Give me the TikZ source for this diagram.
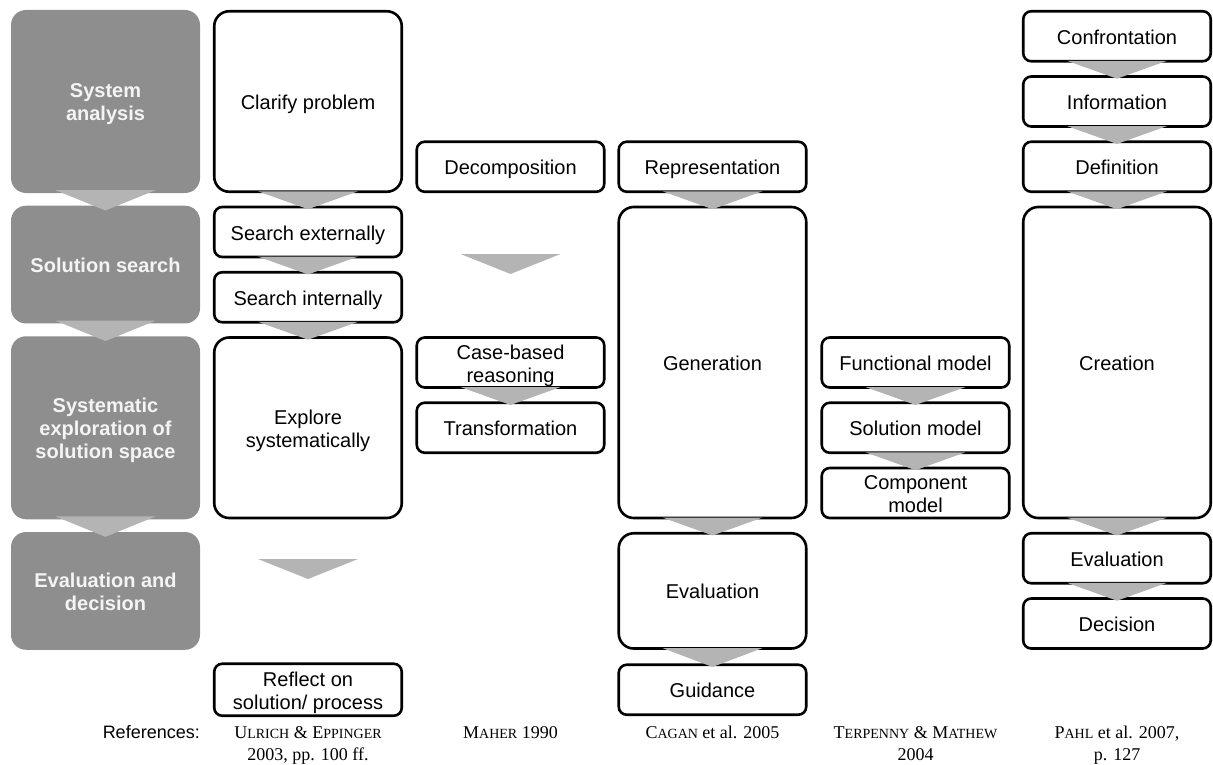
\documentclass[tikz,border=0pt]{standalone}
\usepackage{fontspec}
\setmainfont{Liberation Sans}
\newfontfamily\refserif{Liberation Serif}
\usetikzlibrary{calc}

\definecolor{phasegray}{HTML}{8E8E8E}
\definecolor{chevrongray}{HTML}{B4B4B4}
\definecolor{phasetext}{HTML}{F4F4F4}

% fake small capitals for author names
\newcommand\smc[1]{{\fontsize{14}{22}\selectfont #1}}
% downward chevron between two stacked boxes
\newcommand\stepchevron[2]{%
  \fill[chevrongray] ($(#1.south)+(-50,-1.75)$) -- ($(#1.south)+(50,-1.75)$)
    -- ($(#2.north)+(0,3.5)$) -- cycle;}
\newcommand\phasechevron[2]{%
  \fill[chevrongray] ($(#1.south)+(-50,-3)$) -- ($(#1.south)+(50,-3)$)
    -- ($(#2.north)+(0,5)$) -- cycle;}
\newcommand\freechevron[1]{%
  \fill[chevrongray] ($(#1)+(-50,0)$) -- ($(#1)+(50,0)$) -- ($(#1)+(0,20)$) -- cycle;}

\tikzset{
  oneline/.style={text height=20pt, text depth=4pt},
  twolines/.style={text height=43pt, text depth=4pt},
  threelines/.style={text height=66pt, text depth=4pt},
  stepbox/.style={draw=black, line width=2.6pt, fill=white, rounded corners=8pt,
    minimum width=187.5pt, inner sep=0pt, align=center, oneline,
    font=\fontsize{20}{23}\selectfont},
  bigbox/.style={stepbox, rounded corners=15pt},
  phase/.style={fill=phasegray, rounded corners=15pt, minimum width=189pt,
    inner sep=0pt, align=center, text=phasetext, oneline,
    font=\bfseries\fontsize{20}{23}\selectfont},
  reftext/.style={align=center, font=\refserif\fontsize{18}{22}\selectfont,
    anchor=base, inner sep=0pt},
}

\begin{document}
\begin{tikzpicture}[x=1pt, y=-1pt]
\useasboundingbox (0,0) rectangle (1213,765);

% phases
\node[phase, twolines, minimum height=183pt]   (sa) at (105.5,101.5) {System\\analysis};
\node[phase, minimum height=117.75pt]          (ss) at (105.5,264.6) {Solution search};
\node[phase, threelines, minimum height=183pt] (se) at (105.5,427.75) {Systematic\\exploration of\\solution space};
\node[phase, twolines, minimum height=117.75pt] (ed) at (105.5,590.9) {Evaluation and\\decision};

% Ulrich & Eppinger
\node[bigbox,  minimum height=180.5pt] (u1) at (308,101.5) {Clarify problem};
\node[stepbox, minimum height=50pt]    (u2) at (308,232) {Search externally};
\node[stepbox, minimum height=50pt]    (u3) at (308,297.25) {Search internally};
\node[bigbox, twolines, minimum height=180.5pt] (u4) at (308,427.75) {Explore\\systematically};
\node[stepbox, twolines, minimum height=52pt]   (u5) at (308,689.75) {Reflect on\\solution/ process};
\coordinate (uf) at (308,559);

% Maher
\node[stepbox, minimum height=50pt] (m1) at (510.5,166.75) {Decomposition};
\node[stepbox, twolines, minimum height=50pt] (m2) at (510.5,362.5) {Case-based\\reasoning};
\node[stepbox, minimum height=50pt] (m3) at (510.5,427.75) {Transformation};
\coordinate (mf) at (510.5,254);

% Cagan et al.
\node[stepbox, minimum height=50pt]     (c1) at (712.5,166.75) {Representation};
\node[bigbox,  minimum height=311pt]    (c2) at (712.5,362.5) {Generation};
\node[bigbox,  minimum height=115.25pt] (c3) at (712.5,590.9) {Evaluation};
\node[stepbox, minimum height=50pt]     (c4) at (712.5,689.75) {Guidance};

% Terpenny & Mathew
\node[stepbox, minimum height=50pt] (t1) at (915.5,362.5) {Functional model};
\node[stepbox, minimum height=50pt] (t2) at (915.5,427.75) {Solution model};
\node[stepbox, twolines, minimum height=50pt] (t3) at (915.5,493) {Component\\model};

% Pahl et al.
\node[stepbox, minimum height=50pt]  (p1) at (1117,36.25) {Confrontation};
\node[stepbox, minimum height=50pt]  (p2) at (1117,101.5) {Information};
\node[stepbox, minimum height=50pt]  (p3) at (1117,166.75) {Definition};
\node[bigbox,  minimum height=311pt] (p4) at (1117,362.5) {Creation};
\node[stepbox, minimum height=50pt]  (p5) at (1117,558.25) {Evaluation};
\node[stepbox, minimum height=50pt]  (p6) at (1117,623.5) {Decision};

% chevrons
\phasechevron{sa}{ss}
\phasechevron{ss}{se}
\phasechevron{se}{ed}
\stepchevron{u1}{u2}
\stepchevron{u2}{u3}
\stepchevron{u3}{u4}
\freechevron{uf}
\freechevron{mf}
\stepchevron{m2}{m3}
\stepchevron{c1}{c2}
\stepchevron{c2}{c3}
\stepchevron{c3}{c4}
\stepchevron{t1}{t2}
\stepchevron{t2}{t3}
\stepchevron{p1}{p2}
\stepchevron{p2}{p3}
\stepchevron{p3}{p4}
\stepchevron{p4}{p5}
\stepchevron{p5}{p6}

% sources (multi-line entries sit on the baseline of their last line)
\node[anchor=base east, inner sep=0pt, font=\fontsize{18}{22}\selectfont] (refs) at (200,738) {References:};
\node[reftext] (r1) at (308,760) {U\smc{LRICH} \& E\smc{PPINGER}\\2003, pp. 100 ff.};
\node[reftext] (r2) at (510.5,738) {M\smc{AHER} 1990};
\node[reftext] (r3) at (712.5,738) {C\smc{AGAN} et al. 2005};
\node[reftext] (r4) at (915.5,760) {T\smc{ERPENNY} \& M\smc{ATHEW}\\2004};
\node[reftext] (r5) at (1117,760) {P\smc{AHL} et al. 2007,\\p. 127};
\end{tikzpicture}
\end{document}
